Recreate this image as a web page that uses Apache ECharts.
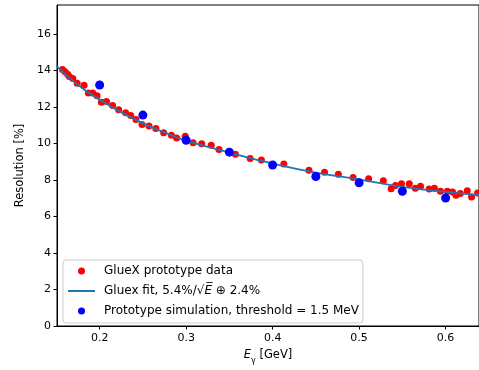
<!DOCTYPE html>
<html>
<head>
<meta charset="utf-8">
<script src="https://cdn.jsdelivr.net/npm/echarts@6/dist/echarts.min.js"></script>
<style>
  html, body { margin: 0; padding: 0; background: #fff; }
  #main { width: 479px; height: 370px; }
</style>
</head>
<body>
<div id="main"></div>
<script>
  // GlueX prototype data: [E_gamma (GeV), resolution (%)]
  const prototypeData = [
    [0.157, 14.05], [0.160, 13.92], [0.163, 13.79], [0.165, 13.67], [0.169, 13.56],
    [0.174, 13.30], [0.182, 13.19], [0.187, 12.76], [0.192, 12.76], [0.197, 12.61],
    [0.202, 12.26], [0.208, 12.29], [0.215, 12.07], [0.222, 11.84], [0.230, 11.68],
    [0.236, 11.53], [0.242, 11.31], [0.249, 11.03], [0.257, 10.95], [0.265, 10.81],
    [0.274, 10.59], [0.283, 10.45], [0.289, 10.30], [0.299, 10.39], [0.308, 10.03],
    [0.318, 9.98], [0.329, 9.90], [0.338, 9.67], [0.357, 9.41], [0.374, 9.18],
    [0.387, 9.09], [0.413, 8.87], [0.442, 8.53], [0.460, 8.42], [0.476, 8.31],
    [0.493, 8.13], [0.511, 8.06], [0.528, 7.95], [0.537, 7.52], [0.542, 7.70],
    [0.549, 7.79], [0.558, 7.79], [0.565, 7.55], [0.571, 7.65], [0.581, 7.50],
    [0.587, 7.55], [0.594, 7.38], [0.602, 7.38], [0.608, 7.34], [0.612, 7.16],
    [0.617, 7.25], [0.625, 7.41], [0.630, 7.07], [0.637, 7.28]
  ];

  // fit curve
  const fitEnergy = [0.15, 0.175, 0.2, 0.225, 0.25, 0.275, 0.3, 0.35, 0.4, 0.45, 0.5, 0.55, 0.6, 0.64];
  const fitResolution = [14.25, 13.2, 12.4, 11.7, 11.1, 10.6, 10.15, 9.5, 8.9, 8.4, 8.03, 7.62, 7.34, 7.17];

  // prototype simulation
  const simEnergy = [0.2, 0.25, 0.3, 0.35, 0.4, 0.45, 0.5, 0.55, 0.6];
  const simResolution = [13.2, 11.55, 10.17, 9.52, 8.82, 8.19, 7.84, 7.38, 7.01];

  const xTicks = [0.2, 0.3, 0.4, 0.5, 0.6];
  const yTicks = [0, 2, 4, 6, 8, 10, 12, 14, 16];

  const font = 'DejaVu Sans';
  const nameData = 'GlueX prototype data';
  const nameFit = 'Gluex fit, 5.4%/\u221AE \u2295 2.4%';
  const nameSim = 'Prototype simulation, threshold = 1.5 MeV';

  let chart = echarts.init(document.getElementById('main'), null, { renderer: 'canvas' });

  let option = {
    backgroundColor: '#fff',
    animation: false,
    grid: {
      left: 57, right: -1, top: 5, bottom: 41,
      show: true, borderColor: '#000', borderWidth: 1, backgroundColor: '#fff'
    },
    xAxis: {
      type: 'value',
      min: 0.1507, max: 0.6386,
      name: '{i|E}{s|\u03B3} [GeV]',
      nameLocation: 'middle',
      nameGap: 23,
      nameTextStyle: {
        color: '#000', fontFamily: font, fontSize: 11.5,
        rich: {
          i: { fontStyle: 'italic', fontFamily: font, fontSize: 11.5, color: '#000', verticalAlign: 'top' },
          s: { fontFamily: font, fontSize: 8, color: '#000', verticalAlign: 'bottom', padding: [0, 0, -4, 0] }
        }
      },
      splitLine: { show: false },
      axisLine: { lineStyle: { color: '#000', width: 1 } },
      axisTick: { customValues: xTicks, length: 3.5, lineStyle: { color: '#000' } },
      axisLabel: {
        customValues: xTicks, margin: 7, color: '#000', fontFamily: font, fontSize: 11,
        formatter: v => v.toFixed(1)
      }
    },
    yAxis: {
      type: 'value',
      min: 0, max: 17.58,
      name: 'Resolution [%]',
      nameLocation: 'middle',
      nameGap: 30,
      nameTextStyle: { color: '#000', fontFamily: font, fontSize: 11.5 },
      splitLine: { show: false },
      axisLine: { show: true, lineStyle: { color: '#000', width: 1 } },
      axisTick: { show: true, customValues: yTicks, length: 3.5, lineStyle: { color: '#000' } },
      axisLabel: { customValues: yTicks, margin: 6, color: '#000', fontFamily: font, fontSize: 11 }
    },
    legend: {
      orient: 'vertical',
      left: 63, top: 260,
      padding: [5, 4, 6, 4],
      itemGap: 8,
      itemWidth: 27,
      itemHeight: 7,
      backgroundColor: 'rgba(255,255,255,0.8)',
      borderColor: '#cccccc',
      borderWidth: 1,
      borderRadius: 3,
      textStyle: {
        color: '#000', fontFamily: font, fontSize: 12, padding: [0, 0, 0, 4],
        rich: {
          n: { fontFamily: font, fontSize: 12, color: '#000' },
          i: { fontFamily: font, fontSize: 12, color: '#000', fontStyle: 'italic' }
        }
      },
      formatter: function (name) {
        if (name === nameFit) {
          return '{n|Gluex fit, 5.4%/\u221A}{i|E\u0305}{n| \u2295 2.4%}';
        }
        return name;
      },
      data: [
        nameData,
        { name: nameFit, itemStyle: { opacity: 0 } },
        nameSim
      ]
    },
    series: [
      {
        name: nameData,
        type: 'scatter',
        symbol: 'circle',
        symbolSize: 7,
        itemStyle: { color: '#ff0000', opacity: 1 },
        z: 2,
        data: prototypeData
      },
      {
        name: nameFit,
        type: 'line',
        smooth: true,
        showSymbol: false,
        symbol: 'none',
        lineStyle: { color: '#1f77b4', width: 1.8 },
        itemStyle: { color: '#1f77b4' },
        z: 3,
        data: fitEnergy.map((e, i) => [e, fitResolution[i]])
      },
      {
        name: nameSim,
        type: 'scatter',
        symbol: 'circle',
        symbolSize: 9,
        itemStyle: { color: '#0000ff', opacity: 1 },
        z: 4,
        data: simEnergy.map((e, i) => [e, simResolution[i]])
      }
    ]
  };

  chart.setOption(option);
</script>
</body>
</html>
